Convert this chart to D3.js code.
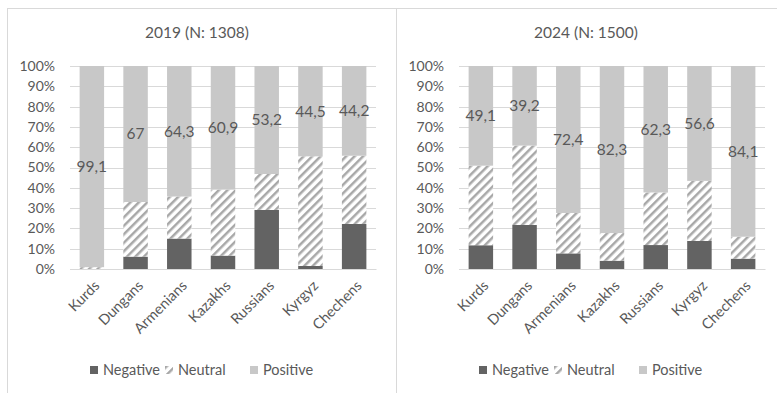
<!DOCTYPE html>
<html>
<head>
<meta charset="utf-8">
<script src="https://cdn.jsdelivr.net/npm/d3@7"></script>
<style>
  html, body { margin: 0; padding: 0; background: #fff; }
  svg { display: block; font-family: Lato, "Open Sans", sans-serif; }
</style>
</head>
<body>
<svg id="chart" width="777" height="393"></svg>
<script>
// Attitudes towards ethnic groups, shares in percent
const categories = ["Kurds", "Dungans", "Armenians", "Kazakhs", "Russians", "Kyrgyz", "Chechens"];
const seriesNames = ["Negative", "Neutral", "Positive"];
const yTicks = [0, 10, 20, 30, 40, 50, 60, 70, 80, 90, 100];

const titles = ["2019 (N: 1308)", "2024 (N: 1500)"];

const negative2019 = [0, 6.1, 15, 6.6, 29.1, 1.5, 22.2];
const neutral2019  = [0.9, 26.9, 20.7, 32.5, 17.7, 54, 33.6];
const positive2019 = [99.1, 67, 64.3, 60.9, 53.2, 44.5, 44.2];

const negative2024 = [11.7, 21.7, 7.7, 4.1, 11.8, 13.8, 5.1];
const neutral2024  = [39.2, 39.1, 19.9, 13.6, 25.9, 29.6, 10.8];
const positive2024 = [49.1, 39.2, 72.4, 82.3, 62.3, 56.6, 84.1];

const panels = [
  { title: titles[0], neg: negative2019, neu: neutral2019, pos: positive2019 },
  { title: titles[1], neg: negative2024, neu: neutral2024, pos: positive2024 }
];

const svg = d3.select("#chart");
const textColor = "#595959";
const gridColor = "#d9d9d9";
const colors = { Negative: "#636363", Positive: "#c8c8c8" };
const fontFamily = "Lato, 'Open Sans', sans-serif";

// Wide upward diagonal hatch for the neutral series
const defs = svg.append("defs");
const pat = defs.append("pattern")
  .attr("id", "hatch")
  .attr("patternUnits", "userSpaceOnUse")
  .attr("width", 6).attr("height", 6)
  .attr("patternTransform", "rotate(45)");
pat.append("rect").attr("width", 6).attr("height", 6).attr("fill", "#fff");
pat.append("rect").attr("x", 0).attr("y", 0).attr("width", 2.5).attr("height", 6).attr("fill", "#a8a8a8");

const fillFor = key => key === "Neutral" ? "url(#hatch)" : colors[key];
const fmt = v => String(v).replace(".", ",");

const panelW = 389;
const plot = { left: 70, right: 376, top: 66, bottom: 269 };

panels.forEach((p, i) => {
  const g = svg.append("g").attr("transform", `translate(${i * panelW},0)`);

  // panel frame
  g.append("rect")
    .attr("x", 7.5).attr("y", 8.5)
    .attr("width", panelW).attr("height", 420)
    .attr("fill", "none").attr("stroke", gridColor).attr("stroke-width", 1);

  g.append("text")
    .attr("x", 197)
    .attr("y", 38)
    .attr("text-anchor", "middle")
    .attr("fill", textColor)
    .attr("font-size", 15.5)
    .text(p.title);

  const x = d3.scaleBand().domain(categories).range([plot.left, plot.right]).paddingInner(0.44).paddingOuter(0.22);
  const y = d3.scaleLinear().domain([0, 100]).range([plot.bottom, plot.top]);

  // gridlines
  g.append("g").selectAll("line").data(yTicks).join("line")
    .attr("x1", plot.left).attr("x2", plot.right)
    .attr("y1", d => Math.round(y(d)) + 0.5).attr("y2", d => Math.round(y(d)) + 0.5)
    .attr("stroke", gridColor).attr("stroke-width", 1);

  // y axis labels
  const yAxis = d3.axisLeft(y).tickValues(yTicks).tickFormat(d => d + "%").tickSize(0).tickPadding(0);
  const ya = g.append("g").attr("transform", `translate(${plot.left - 15},0)`).call(yAxis);
  ya.select(".domain").remove();
  ya.selectAll("text").attr("fill", textColor).attr("font-size", 14).attr("font-family", fontFamily);

  // stacked bars
  const rows = categories.map((c, k) => ({ cat: c, Negative: p.neg[k], Neutral: p.neu[k], Positive: p.pos[k] }));
  const stacked = d3.stack().keys(seriesNames)(rows);

  g.append("g").selectAll("g").data(stacked).join("g")
    .attr("fill", d => fillFor(d.key))
    .selectAll("rect").data(d => d).join("rect")
    .attr("x", d => x(d.data.cat))
    .attr("width", x.bandwidth())
    .attr("y", d => y(d[1]))
    .attr("height", d => y(d[0]) - y(d[1]));

  // positive value labels, centred in the positive segment
  const posLayer = stacked.find(s => s.key === "Positive");
  g.append("g").selectAll("text").data(posLayer).join("text")
    .attr("x", d => x(d.data.cat) + x.bandwidth() / 2)
    .attr("y", d => y((d[0] + d[1]) / 2))
    .attr("dy", "0.35em")
    .attr("text-anchor", "middle")
    .attr("fill", textColor)
    .attr("font-size", 15.5)
    .text(d => fmt(d.data.Positive));

  // category axis
  const xAxis = d3.axisBottom(x).tickSize(0).tickPadding(0);
  const xa = g.append("g").attr("transform", `translate(0,${plot.bottom})`).call(xAxis);
  xa.select(".domain").attr("stroke", gridColor);
  xa.selectAll("text")
    .attr("fill", textColor)
    .attr("font-size", 14.5)
    .attr("font-family", fontFamily)
    .attr("text-anchor", "end")
    .attr("y", 0)
    .attr("dy", "0.35em")
    .attr("transform", "translate(5,14) rotate(-45)");

  // legend
  const lg = g.append("g").attr("transform", "translate(0,370)");
  const legendX = [90, 165, 250];
  seriesNames.forEach((name, k) => {
    lg.append("rect")
      .attr("x", legendX[k]).attr("y", -4)
      .attr("width", 8).attr("height", 8)
      .attr("fill", fillFor(name));
    lg.append("text")
      .attr("x", legendX[k] + 13).attr("y", 0)
      .attr("dy", "0.35em")
      .attr("fill", textColor)
      .attr("font-size", 14.5)
      .text(name);
  });
});
</script>
</body>
</html>
